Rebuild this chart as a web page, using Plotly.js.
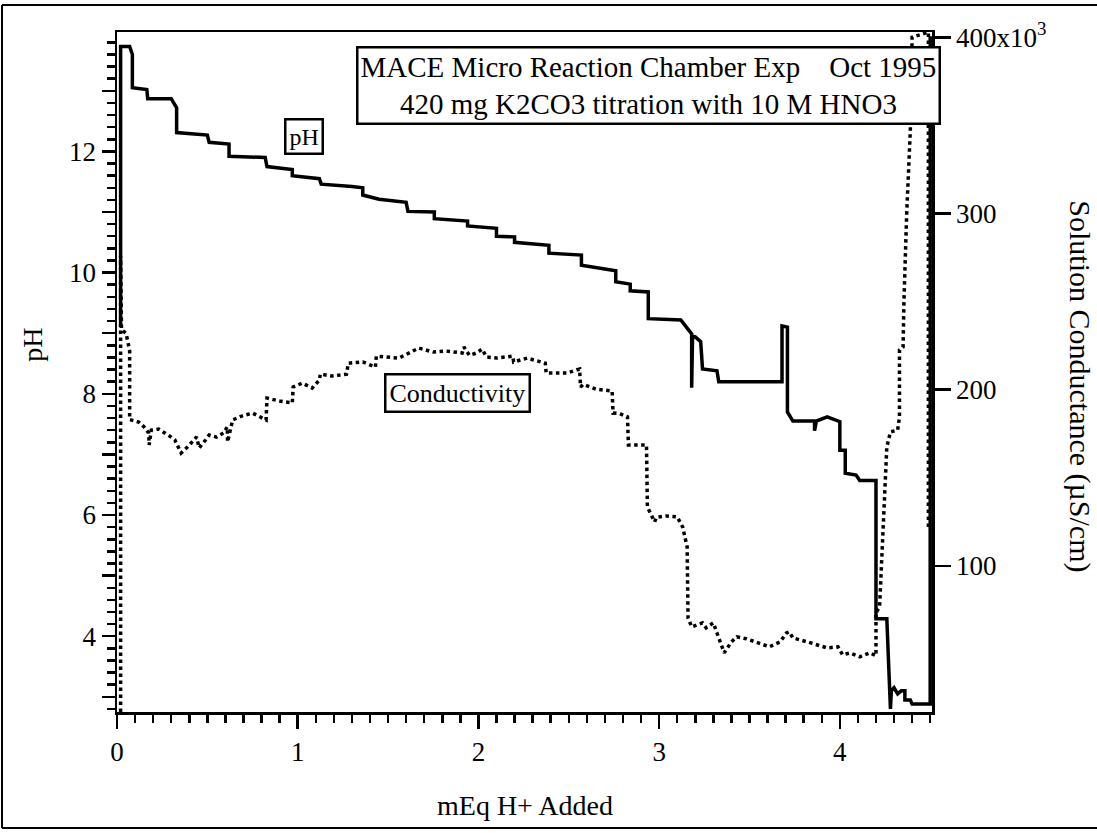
<!DOCTYPE html>
<html>
<head>
<meta charset="utf-8">
<script src="https://cdn.plot.ly/plotly-3.0.1.min.js"></script>
<style>html,body{margin:0;padding:0;background:#fff;}#chart{width:1097px;height:833px;}</style>
</head>
<body>
<div id="chart"></div>
<script>
// pH trace (mEq H+ added, pH)
var phX = [0.02,0.02,0.07,0.085,0.085,0.165,0.17,0.30,0.33,0.33,0.50,0.51,0.62,0.62,0.82,0.83,0.97,0.97,1.12,1.13,1.30,1.36,1.36,1.45,1.60,1.61,1.756,1.756,1.94,1.94,2.10,2.10,2.20,2.20,2.39,2.39,2.57,2.57,2.76,2.76,2.84,2.84,2.94,2.94,3.12,3.18,3.18,3.185,3.20,3.23,3.24,3.32,3.33,3.68,3.68,3.71,3.71,3.74,3.86,3.86,3.87,3.93,4.00,4.00,4.03,4.03,4.09,4.11,4.20,4.20,4.26,4.28,4.285,4.30,4.32,4.34,4.36,4.36,4.39,4.40,4.50,4.50];
var phY = [9.1,13.73,13.73,13.6,13.05,13.02,12.87,12.87,12.72,12.31,12.27,12.15,12.12,11.92,11.9,11.75,11.7,11.6,11.55,11.46,11.42,11.4,11.28,11.21,11.16,11.01,11.0,10.89,10.85,10.77,10.73,10.6,10.59,10.5,10.45,10.32,10.29,10.12,10.03,9.85,9.81,9.7,9.68,9.24,9.22,8.99,8.1,8.95,8.94,8.86,8.41,8.38,8.2,8.2,9.12,9.1,7.7,7.55,7.55,7.39,7.55,7.62,7.54,7.07,7.07,6.69,6.66,6.57,6.57,4.29,4.29,2.8,3.1,3.15,3.05,3.1,3.1,2.95,2.95,2.88,2.88,13.9];

// Conductivity trace (mEq H+ added, solution conductance in 10^3 units)
var condX = [0.02,0.02,0.025,0.05,0.07,0.07,0.12,0.15,0.175,0.178,0.19,0.23,0.29,0.32,0.355,0.39,0.44,0.455,0.49,0.51,0.55,0.59,0.61,0.612,0.64,0.69,0.75,0.825,0.83,0.90,0.97,0.975,1.025,1.08,1.12,1.125,1.19,1.27,1.28,1.36,1.43,1.435,1.49,1.56,1.67,1.75,1.82,1.91,1.92,1.95,1.99,2.02,2.045,2.10,2.19,2.195,2.27,2.37,2.375,2.49,2.56,2.565,2.58,2.65,2.74,2.745,2.78,2.825,2.83,2.93,2.935,2.95,2.975,2.985,3.04,3.10,3.13,3.155,3.16,3.18,3.24,3.26,3.30,3.32,3.36,3.40,3.43,3.485,3.54,3.61,3.67,3.705,3.72,3.74,3.82,3.93,3.99,4.015,4.055,4.11,4.165,4.20,4.20,4.22,4.26,4.28,4.32,4.33,4.33,4.35,4.355,4.37,4.39,4.40,4.49,4.49];
var condY = [17,276,234,232,222,183,181.6,178.8,175.4,168.6,177,177.6,173.7,171.4,164,167.4,173.1,166.9,171.4,174.2,173.1,175.4,178.8,170.3,182.8,185,186.7,182.8,195.2,193.5,192.4,201.5,203.7,200.9,205.4,208.8,207.7,208.8,215,215.7,212.8,219,218.5,217.9,223.6,221.3,221.9,220.8,224.2,219.5,220.8,223,218.5,217.9,219,215.7,217.9,215,209.4,209.4,211.7,201.5,203,200.3,199.2,186.7,186.5,184.5,168.6,168.6,133.4,130.6,124.9,127.5,128.3,127.7,122.1,110.7,70.4,65.3,67.6,64.8,67.6,61.9,50.6,56.8,59.7,58.5,56.3,54,56.8,61.9,62.5,59.1,56.8,53.4,54,49.5,50.5,48.3,50.6,48.9,73.3,76.7,167.5,176,177,184.5,222.5,224.2,250.8,300,347,400,403,120];

// Axis tick labels
var xTickVals = [0,1,2,3,4];
var xTickText = ['0','1','2','3','4'];
var yTickVals = [3,4,5,6,7,8,9,10,11,12,13];
var yTickText = ['','4','','6','','8','','10','','12',''];
var y2TickVals = [100,200,300,400];
var y2TickText = ['100','200','300','400x10<sup>3</sup>'];

var FONT = 'Liberation Serif, Times New Roman, serif';

var traces = [
  {x: phX, y: phY, type: 'scatter', mode: 'lines', name: 'pH',
   line: {color: '#000', width: 3.5}, yaxis: 'y'},
  {x: condX, y: condY, type: 'scatter', mode: 'lines', name: 'Conductivity',
   line: {color: '#000', width: 3.5, dash: 'dot'}, yaxis: 'y2'}
];

var layout = {
  width: 1097, height: 833,
  margin: {l: 117, r: 165, t: 32, b: 121},
  paper_bgcolor: '#fff', plot_bgcolor: '#fff',
  showlegend: false,
  font: {family: FONT, color: '#000', size: 26},
  xaxis: {
    range: [0, 4.51], showgrid: false, zeroline: false,
    showline: true, linecolor: '#000', linewidth: 2.5, mirror: true,
    ticks: 'outside', ticklen: 14, tickwidth: 2.5, tickcolor: '#000',
    tickmode: 'array', tickvals: xTickVals, ticktext: xTickText,
    tickfont: {family: FONT, size: 27, color: '#000'},
    minor: {tickmode: 'linear', tick0: 0, dtick: 0.1, ticks: 'outside', ticklen: 8, tickwidth: 2.5, tickcolor: '#000'}
  },
  yaxis: {
    range: [2.75, 13.97], showgrid: false, zeroline: false,
    showline: true, linecolor: '#000', linewidth: 2.5,
    ticks: 'outside', ticklen: 13, tickwidth: 2.5, tickcolor: '#000',
    tickmode: 'array', tickvals: yTickVals, ticktext: yTickText,
    tickfont: {family: FONT, size: 27, color: '#000'},
    minor: {tickmode: 'linear', tick0: 0, dtick: 0.2, ticks: 'outside', ticklen: 8, tickwidth: 2.5, tickcolor: '#000'}
  },
  yaxis2: {
    overlaying: 'y', side: 'right', anchor: 'x',
    range: [17, 403], showgrid: false, zeroline: false,
    showline: true, linecolor: '#000', linewidth: 2.5,
    ticks: 'outside', ticklen: 16, tickwidth: 2.5, tickcolor: '#000',
    tickmode: 'array', tickvals: y2TickVals, ticktext: y2TickText,
    tickfont: {family: FONT, size: 27, color: '#000'}
  },
  annotations: [
    {xref: 'paper', yref: 'paper', x: 0.652, y: 0.922, xanchor: 'center', yanchor: 'middle',
     text: 'MACE Micro Reaction Chamber Exp\u00A0\u00A0\u00A0\u00A0Oct 1995<br>420 mg K2CO3 titration with 10 M HNO3',
     showarrow: false, bgcolor: '#fff', bordercolor: '#000', borderwidth: 2.5, borderpad: 2,
     font: {family: FONT, size: 29, color: '#000'}},
    {xref: 'paper', yref: 'paper', x: 0.2294, y: 0.847, xanchor: 'center', yanchor: 'middle',
     text: 'pH', showarrow: false, bgcolor: '#fff', bordercolor: '#000', borderwidth: 2.5, borderpad: 3,
     font: {family: FONT, size: 24, color: '#000'}},
    {xref: 'paper', yref: 'paper', x: 0.4172, y: 0.469, xanchor: 'center', yanchor: 'middle',
     text: 'Conductivity', showarrow: false, bgcolor: '#fff', bordercolor: '#000', borderwidth: 2.5, borderpad: 3,
     font: {family: FONT, size: 26, color: '#000'}},
    {xref: 'paper', yref: 'paper', x: 0.5, y: -0.137, xanchor: 'center', yanchor: 'middle',
     text: 'mEq H+ Added', showarrow: false, font: {family: FONT, size: 28, color: '#000'}},
    {xref: 'paper', yref: 'paper', x: -0.103, y: 0.54, xanchor: 'center', yanchor: 'middle',
     text: 'pH', textangle: -90, showarrow: false, font: {family: FONT, size: 28, color: '#000'}},
    {xref: 'paper', yref: 'paper', x: 1.1816, y: 0.479, xanchor: 'center', yanchor: 'middle',
     text: 'Solution Conductance (\u00B5S/cm)', textangle: 90, showarrow: false, font: {family: FONT, size: 30, color: '#000'}}
  ],
  shapes: [
    {type: 'line', xref: 'paper', yref: 'paper', x0: -0.1411, x1: -0.1411, y0: 1.0397, y1: -0.1706, line: {color: '#000', width: 2}},
    {type: 'line', xref: 'paper', yref: 'paper', x0: -0.1411, x1: 1.21, y0: -0.1706, y1: -0.1706, line: {color: '#000', width: 2}},
    {type: 'line', xref: 'paper', yref: 'paper', x0: -0.1411, x1: 1.21, y0: 1.0397, y1: 1.0397, line: {color: '#000', width: 2}}
  ]
};

Plotly.newPlot('chart', traces, layout, {displayModeBar: false, staticPlot: true});
</script>
</body>
</html>
